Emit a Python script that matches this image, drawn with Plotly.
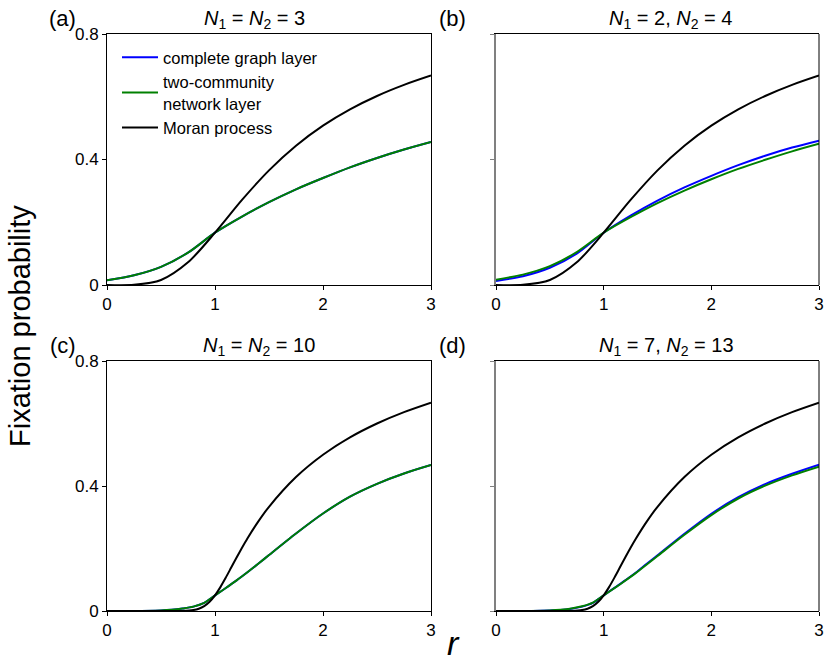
import plotly.graph_objects as go

# ---------------- data ----------------
r_small = [0, 0.25, 0.5, 0.75, 1.0, 1.25, 1.5, 1.75, 2.0, 2.25, 2.5, 2.75, 3.0]
moran_n6 = [0.0, 0.0007, 0.0159, 0.0722, 0.1667, 0.2711, 0.3654, 0.4440, 0.5079,
            0.5599, 0.6025, 0.6378, 0.6676]
complete_a = [0.015, 0.031, 0.058, 0.103, 0.1667, 0.218, 0.264, 0.305, 0.341,
              0.375, 0.405, 0.432, 0.456]
community_a = [0.015, 0.031, 0.058, 0.103, 0.1667, 0.218, 0.264, 0.305, 0.341,
               0.375, 0.405, 0.432, 0.456]
complete_b = [0.013, 0.028, 0.055, 0.100, 0.1667, 0.221, 0.269, 0.311, 0.348,
              0.382, 0.412, 0.438, 0.460]
community_b = [0.017, 0.033, 0.060, 0.105, 0.1667, 0.216, 0.261, 0.301, 0.337,
               0.370, 0.399, 0.426, 0.450]

r_large = [0, 0.25, 0.5, 0.6, 0.7, 0.8, 0.9, 1.0, 1.1, 1.2, 1.3, 1.4, 1.5,
           1.75, 2.0, 2.25, 2.5, 2.75, 3.0]
complete_c = [0.0, 0.0, 0.002, 0.004, 0.008, 0.014, 0.026, 0.050, 0.0735, 0.098,
              0.124, 0.151, 0.179, 0.248, 0.312, 0.366, 0.407, 0.440, 0.467]
community_c = [0.0, 0.0, 0.002, 0.004, 0.008, 0.014, 0.026, 0.050, 0.0735, 0.098,
               0.124, 0.151, 0.179, 0.248, 0.312, 0.366, 0.407, 0.440, 0.467]
complete_d = [0.0, 0.0, 0.002, 0.003, 0.007, 0.014, 0.026, 0.050, 0.074, 0.098,
              0.123, 0.151, 0.178, 0.247, 0.311, 0.364, 0.406, 0.439, 0.468]
community_d = [0.0, 0.0, 0.002, 0.004, 0.008, 0.015, 0.027, 0.050, 0.073, 0.097,
               0.122, 0.149, 0.176, 0.244, 0.307, 0.360, 0.401, 0.434, 0.462]

r_moran20 = [0, 0.5, 0.6, 0.7, 0.8, 0.85, 0.9, 0.95, 1.0, 1.05, 1.1, 1.15, 1.2,
             1.25, 1.3, 1.4, 1.5, 1.75, 2.0, 2.25, 2.5, 2.75, 3.0]
moran_n20 = [0.0, 0.0, 0.00002, 0.00034, 0.0029, 0.0071, 0.0154, 0.0294, 0.05,
             0.0764, 0.1068, 0.1389, 0.1711, 0.2023, 0.2320, 0.2860, 0.3334,
             0.4286, 0.5000, 0.5556, 0.6000, 0.6364, 0.6667]

series_names = ["complete graph layer", "two-community<br>network layer", "Moran process"]
panel_titles = ["<i>N</i><sub>1</sub> = <i>N</i><sub>2</sub> = 3",
                "<i>N</i><sub>1</sub> = 2, <i>N</i><sub>2</sub> = 4",
                "<i>N</i><sub>1</sub> = <i>N</i><sub>2</sub> = 10",
                "<i>N</i><sub>1</sub> = 7, <i>N</i><sub>2</sub> = 13"]
panel_labels = ["(a)", "(b)", "(c)", "(d)"]
x_ticks = [0, 1, 2, 3]
x_tick_text = ["0", "1", "2", "3"]
y_ticks = [0, 0.4, 0.8]
y_tick_text = ["0", "0.4", "0.8"]

panels = [
    ((r_small, complete_a), (r_small, community_a), (r_small, moran_n6)),
    ((r_small, complete_b), (r_small, community_b), (r_small, moran_n6)),
    ((r_large, complete_c), (r_large, community_c), (r_moran20, moran_n20)),
    ((r_large, complete_d), (r_large, community_d), (r_moran20, moran_n20)),
]

# ---------------- layout geometry ----------------
W, H = 831, 667
FONT = "Arial, Liberation Sans, sans-serif"
colors = ["#0000ff", "#008000", "#000000"]
px_x = [(107, 431), (496, 819), (107, 431), (496, 819)]
px_y = [(34, 285), (34, 285), (361, 611), (361, 611)]
title_cx = [255, 670, 259, 666]


def fx(x):
    return x / W


def fy(y):
    return 1 - y / H


fig = go.Figure()
layout = dict(
    width=W, height=H,
    margin=dict(l=0, r=0, t=0, b=0, autoexpand=False),
    paper_bgcolor="white", plot_bgcolor="white",
    font=dict(family=FONT, size=16, color="black"),
    showlegend=True,
    legend=dict(x=fx(117), y=fy(40), xanchor="left", yanchor="top",
                bgcolor="rgba(255,255,255,0)", font=dict(size=16.5, family=FONT),
                tracegroupgap=0, itemwidth=36),
)
annotations = []
shapes = []

for i, series in enumerate(panels):
    k = "" if i == 0 else str(i + 1)
    xa, ya = "x" + k, "y" + k
    for j, (rr, ys) in enumerate(series):
        fig.add_trace(go.Scatter(
            x=rr, y=ys, mode="lines", name=series_names[j],
            line=dict(color=colors[j], width=2, shape="spline", smoothing=0.8),
            xaxis=xa, yaxis=ya, showlegend=(i == 0), legendrank=j,
        ))
    left = i in (0, 2)
    layout["xaxis" + k] = dict(
        domain=[fx(px_x[i][0]), fx(px_x[i][1])], anchor=ya, range=[0, 3],
        tickvals=x_ticks, ticktext=x_tick_text, ticks="outside", ticklen=4,
        tickcolor="black", showline=True, linecolor="black", linewidth=1,
        mirror=True, showgrid=False, zeroline=False, automargin=False,
        tickfont=dict(size=17, family=FONT),
    )
    layout["yaxis" + k] = dict(
        domain=[fy(px_y[i][1]), fy(px_y[i][0])], anchor=xa, range=[0, 0.8],
        tickvals=y_ticks, ticktext=y_tick_text, ticks="outside", ticklen=4,
        tickcolor="black" if left else "#808080",
        showticklabels=left, showline=True,
        linecolor="black" if left else "#808080", linewidth=1 if left else 1.6,
        mirror=True if left else False, showgrid=False, zeroline=False,
        automargin=False, tickfont=dict(size=17, family=FONT),
    )
    if not left:
        shapes.append(dict(type="line", xref=xa + " domain", yref=ya + " domain",
                           x0=1, x1=1, y0=0, y1=1,
                           line=dict(color="black", width=1)))
    annotations.append(dict(text=panel_titles[i], x=fx(title_cx[i]), y=fy(px_y[i][0] - 15),
                            xref="paper", yref="paper", xanchor="center", yanchor="middle",
                            showarrow=False, font=dict(size=20, family=FONT)))
    annotations.append(dict(text=panel_labels[i], x=fx(px_x[i][0] - 44),
                            y=fy(px_y[i][0] - 16),
                            xref="paper", yref="paper", xanchor="center", yanchor="middle",
                            showarrow=False, font=dict(size=22, family=FONT)))

annotations.append(dict(text="Fixation probability", x=fx(20), y=fy(326),
                        xref="paper", yref="paper", xanchor="center", yanchor="middle",
                        textangle=-90, showarrow=False, font=dict(size=29, family=FONT)))
annotations.append(dict(text="<i>r</i>", x=fx(453), y=fy(643),
                        xref="paper", yref="paper", xanchor="center", yanchor="middle",
                        showarrow=False, font=dict(size=34, family=FONT)))

layout["annotations"] = annotations
layout["shapes"] = shapes
fig.update_layout(**layout)
fig.write_html("out.html", config={"displayModeBar": False},
               post_script="document.body.style.margin='0px';")
